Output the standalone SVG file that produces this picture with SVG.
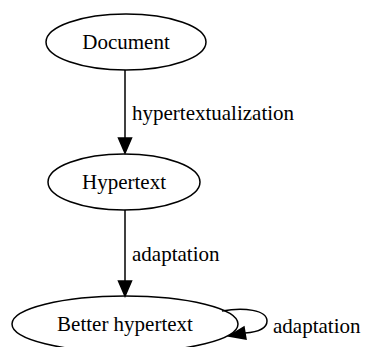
<svg xmlns="http://www.w3.org/2000/svg" width="366" height="347" viewBox="0 0 366 347">
<style>
.n{fill:none;stroke:#000;stroke-width:1.5}
.e{fill:none;stroke:#000;stroke-width:1.5}
.h{fill:#000;stroke:#000;stroke-width:1.5}
text{font-family:"Liberation Serif","Times New Roman",serif;font-size:21px;fill:#000}
.c{text-anchor:middle}
</style>
<rect width="366" height="347" fill="#fff"/>
<g id="connectors">
<g id="e1"><path class="e" d="M125,70 L125,138"/><polygon class="h" points="118.5,138 131.5,138 125,153"/><text x="132" y="120">hypertextualization</text></g>
<g id="e2"><path class="e" d="M125,210 L125,281"/><polygon class="h" points="118.5,281 131.5,281 125,296"/><text x="132" y="261">adaptation</text></g>
<g id="e3"><path class="e" d="M222,311 C244,307 267,310 267,321 C267,329 258,332 245,333"/><polygon class="h" points="244,327 246,339 229,336"/><text x="273" y="333">adaptation</text></g>
</g>
<g id="document"><ellipse class="n" cx="126" cy="42" rx="80" ry="28"/><text class="c" x="126" y="49">Document</text></g>
<g id="hypertext"><ellipse class="n" cx="124" cy="182" rx="76" ry="28"/><text class="c" x="124" y="189">Hypertext</text></g>
<g id="better"><ellipse class="n" cx="125" cy="324" rx="113" ry="28"/><text class="c" x="125" y="331">Better hypertext</text></g>
</svg>
